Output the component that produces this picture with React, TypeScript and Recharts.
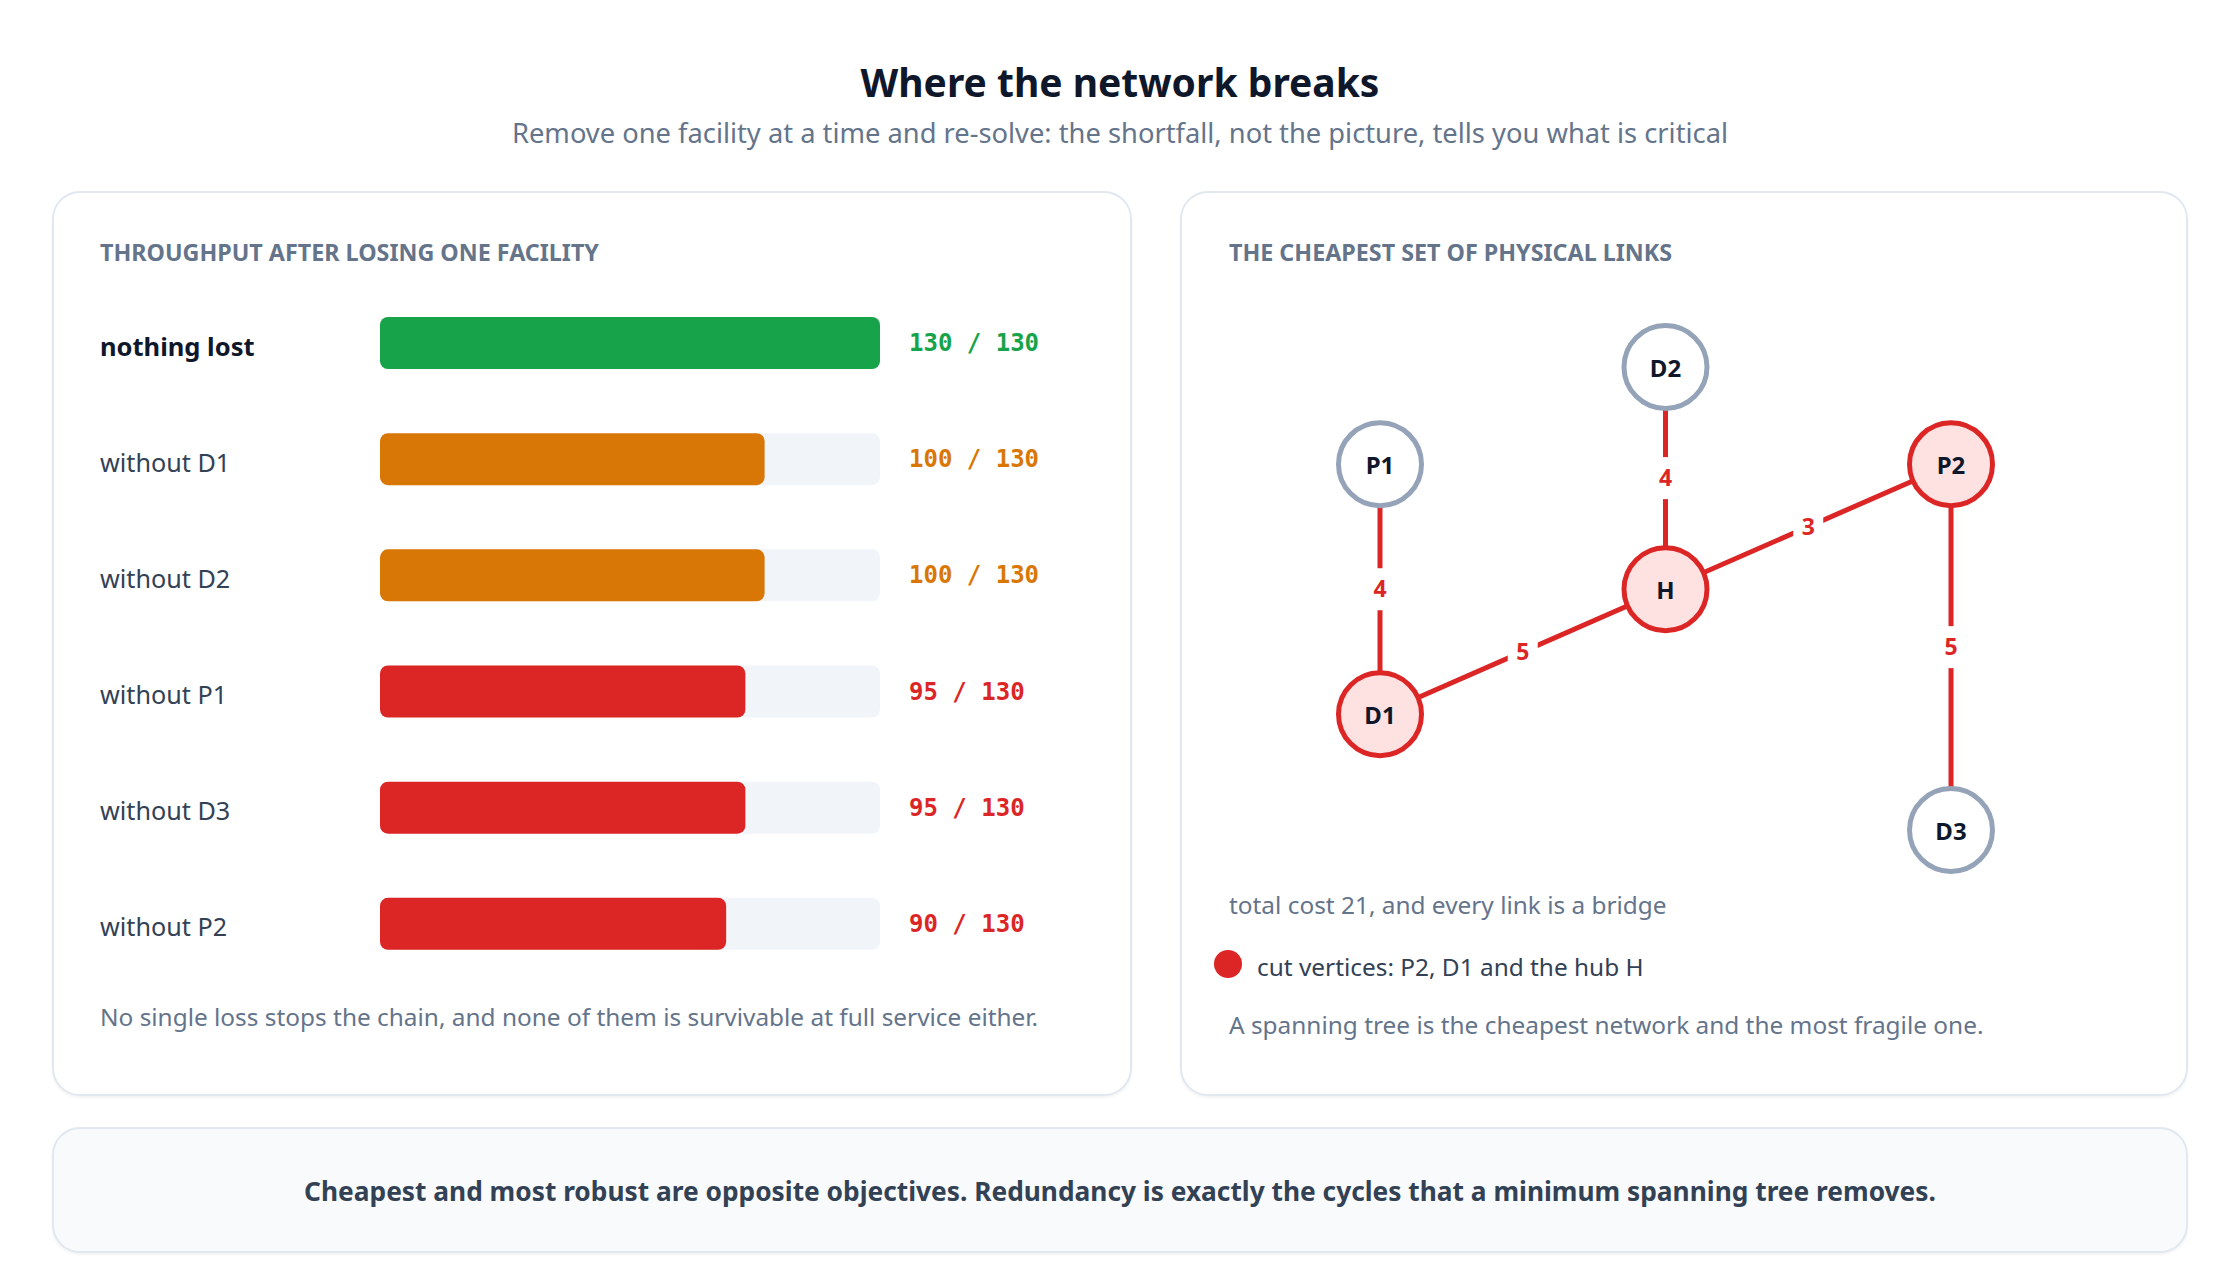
import React from "react";
import { BarChart, Bar, XAxis, YAxis, Cell, ScatterChart, Scatter } from "recharts";

// throughput left after removing one facility (out of total demand)
const TOTAL = 130;
const scenarios = ["nothing lost", "without D1", "without D2", "without P1", "without D3", "without P2"];
const throughput = [130, 100, 100, 95, 95, 90];

// spanning tree layout: node ids and their positions on a 0..100 grid
const nodeIds = ["P1", "D2", "P2", "H", "D1", "D3"];
const nodeX = [0, 50, 100, 50, 0, 100];
const nodeY = [21, 0, 21, 48, 75, 100];
const cutVertices = ["P2", "D1", "H"];

const linkFrom = ["P1", "D2", "D1", "H", "P2"];
const linkTo = ["D1", "H", "H", "P2", "D3"];
const linkCost = [4, 4, 5, 3, 5];

const FONT = '"Noto Sans", sans-serif';
const MONO = '"DejaVu Sans Mono", monospace';
const RED = "#dc2626";
const GREEN = "#16a34a";
const AMBER = "#d97706";
const SLATE = "#64748b";
const INK = "#0f172a";
const BODY = "#334155";

const rows = scenarios.map((name, i) => ({ name, value: throughput[i] }));

const colorFor = (v: number) => (v >= TOTAL ? GREEN : v >= 100 ? AMBER : RED);

const nodes = nodeIds.map((id, i) => ({
  id,
  x: nodeX[i],
  y: nodeY[i],
  critical: cutVertices.includes(id),
}));
const nodeById = (id: string) => nodes.find((n) => n.id === id)!;

const links = linkFrom.map((f, i) => {
  const a = nodeById(f);
  const b = nodeById(linkTo[i]);
  return {
    pts: [
      { x: a.x, y: a.y },
      { x: b.x, y: b.y },
    ],
    mid: { x: (a.x + b.x) / 2, y: (a.y + b.y) / 2, cost: linkCost[i] },
  };
});
const linkMids = links.map((l) => l.mid);

const Y_NAME_W = 280;

const NameTick = (props: any) => {
  const { x, y, payload } = props;
  const first = payload.index === 0;
  return (
    <text
      x={x - Y_NAME_W}
      y={y}
      dy={12.5}
      textAnchor="start"
      fontFamily={FONT}
      fontSize={first ? 25.5 : 25.2}
      fontWeight={first ? 700 : 400}
      fill={first ? INK : BODY}
    >
      {payload.value}
    </text>
  );
};

const ScoreTick = (props: any) => {
  const { x, y, payload } = props;
  const v = rows[payload.index].value;
  return (
    <text
      x={x + 29}
      y={y}
      dy={8}
      textAnchor="start"
      fontFamily={MONO}
      fontSize={24}
      fontWeight={700}
      fill={colorFor(v)}
    >
      {`${v} / ${TOTAL}`}
    </text>
  );
};

const NodeShape = (props: any) => {
  const { cx, cy, payload } = props;
  const crit = payload.critical;
  return (
    <g>
      <circle
        cx={cx}
        cy={cy}
        r={41.5}
        fill={crit ? "#fee2e2" : "#ffffff"}
        stroke={crit ? RED : "#94a3b8"}
        strokeWidth={5}
      />
      <text
        x={cx}
        y={cy}
        dy={10}
        textAnchor="middle"
        fontFamily={FONT}
        fontSize={24}
        fontWeight={700}
        fill={INK}
      >
        {payload.id}
      </text>
    </g>
  );
};

const EdgeLabel = (props: any) => {
  const { cx, cy, payload } = props;
  return (
    <g>
      <rect x={cx - 15} y={cy - 21} width={30} height={42} fill="#ffffff" />
      <text
        x={cx}
        y={cy}
        dy={8}
        textAnchor="middle"
        fontFamily={FONT}
        fontSize={23}
        fontWeight={700}
        fill={RED}
      >
        {payload.cost}
      </text>
    </g>
  );
};

const panel: React.CSSProperties = {
  position: "absolute",
  boxSizing: "border-box",
  border: "2px solid #e2e8f0",
  borderRadius: 28,
  background: "#ffffff",
  boxShadow: "0 2px 3px rgba(15, 23, 42, 0.05)",
};

// top = baseline - 0.888 * fontSize when lineHeight equals fontSize
const line = (fs: number, baseline: number): React.CSSProperties => ({
  position: "absolute",
  fontSize: fs,
  lineHeight: `${fs}px`,
  top: baseline - 0.888 * fs,
  whiteSpace: "nowrap",
});

const heading: React.CSSProperties = {
  ...line(23.3, 261.4),
  fontWeight: 700,
  color: SLATE,
};

export default function App() {
  return (
    <div
      style={{
        position: "absolute",
        left: 0,
        top: 0,
        width: 2240,
        height: 1280,
        background: "#ffffff",
        fontFamily: FONT,
        overflow: "hidden",
      }}
    >
      <div style={{ ...line(39, 97), left: 0, width: 2240, textAlign: "center", fontWeight: 700, color: INK }}>
        Where the network breaks
      </div>
      <div style={{ ...line(27.3, 143.3), left: 0, width: 2240, textAlign: "center", color: SLATE }}>
        Remove one facility at a time and re-solve: the shortfall, not the picture, tells you what is critical
      </div>

      <div style={{ ...panel, left: 52, top: 191, width: 1080, height: 905 }} />
      <div style={{ ...panel, left: 1180, top: 191, width: 1008, height: 905 }} />
      <div style={{ ...panel, left: 52, top: 1127, width: 2136, height: 126, background: "#f8fafc" }} />

      <div style={{ ...heading, left: 100 }}>THROUGHPUT AFTER LOSING ONE FACILITY</div>
      <div style={{ position: "absolute", left: 100, top: 285 }}>
        <BarChart
          layout="vertical"
          width={980}
          height={697}
          data={rows}
          margin={{ top: 0, right: 0, bottom: 0, left: 0 }}
          barSize={52}
        >
          <XAxis type="number" domain={[0, TOTAL]} hide />
          <YAxis
            yAxisId="name"
            type="category"
            dataKey="name"
            width={Y_NAME_W}
            axisLine={false}
            tickLine={false}
            tickSize={0}
            tickMargin={0}
            interval={0}
            tick={NameTick}
          />
          <YAxis
            yAxisId="score"
            orientation="right"
            type="category"
            dataKey="name"
            width={200}
            axisLine={false}
            tickLine={false}
            tickSize={0}
            tickMargin={0}
            interval={0}
            tick={ScoreTick}
          />
          <Bar
            yAxisId="name"
            dataKey="value"
            radius={8}
            background={{ fill: "#f1f5f9", radius: 8 }}
            isAnimationActive={false}
          >
            {rows.map((r) => (
              <Cell key={r.name} fill={colorFor(r.value)} />
            ))}
          </Bar>
        </BarChart>
      </div>
      <div style={{ ...line(24.4, 1026.7), left: 100, color: SLATE }}>
        No single loss stops the chain, and none of them is survivable at full service either.
      </div>

      <div style={{ ...heading, left: 1229 }}>THE CHEAPEST SET OF PHYSICAL LINKS</div>
      <div style={{ position: "absolute", left: 1180, top: 300 }}>
        <ScatterChart width={1008} height={600} margin={{ top: 67, right: 237, bottom: 70, left: 200 }}>
          <XAxis type="number" dataKey="x" domain={[0, 100]} hide />
          <YAxis type="number" dataKey="y" domain={[0, 100]} reversed hide />
          {links.map((l, i) => (
            <Scatter
              key={`link-${i}`}
              data={l.pts}
              line={{ stroke: RED, strokeWidth: 5 }}
              shape={() => <g />}
              isAnimationActive={false}
            />
          ))}
          <Scatter data={linkMids} shape={EdgeLabel} isAnimationActive={false} />
          <Scatter data={nodes} shape={NodeShape} isAnimationActive={false} />
        </ScatterChart>
      </div>
      <div style={{ ...line(24.4, 915), left: 1229, color: SLATE }}>total cost 21, and every link is a bridge</div>
      <div
        style={{
          position: "absolute",
          left: 1214,
          top: 949.5,
          width: 28,
          height: 28,
          borderRadius: "50%",
          background: RED,
        }}
      />
      <div style={{ ...line(24.4, 976.7), left: 1257, color: BODY }}>cut vertices: P2, D1 and the hub H</div>
      <div style={{ ...line(24.4, 1035), left: 1229, color: SLATE }}>
        A spanning tree is the cheapest network and the most fragile one.
      </div>

      <div style={{ ...line(26.3, 1201.7), left: 0, width: 2240, textAlign: "center", fontWeight: 700, color: BODY }}>
        Cheapest and most robust are opposite objectives. Redundancy is exactly the cycles that a minimum spanning tree
        removes.
      </div>
    </div>
  );
}
